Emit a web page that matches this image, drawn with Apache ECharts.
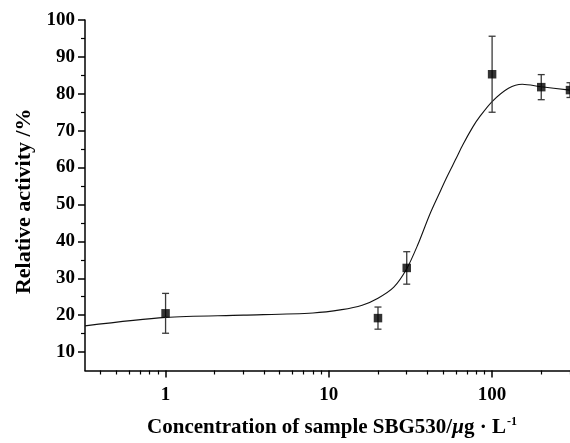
<!DOCTYPE html>
<html>
<head>
<meta charset="utf-8">
<script src="https://cdn.jsdelivr.net/npm/echarts@6/dist/echarts.min.js"></script>
<style>
  html, body { margin: 0; padding: 0; background: #fff; }
  #chart { width: 570px; height: 443px; }
</style>
</head>
<body>
<div id="chart"></div>
<script>
// Measured activity (mean ± error) at each sample concentration (µg/L)
const concentrations = [1, 20, 30, 100, 200, 300];
const activityMean   = [20.5, 19.2, 32.8, 85.3, 81.8, 81.0];
const activityError  = [5.4, 3.0, 4.4, 10.3, 3.4, 2.0];

// Fitted dose-response curve
const fitConc     = [0.321, 1, 3, 8, 12, 16, 20, 25, 30, 35, 41.5, 47.7, 52.5, 60.4, 66.2, 76.4, 84, 100, 126, 153, 200, 300];
const fitActivity = [17.1, 19.4, 20.0, 20.6, 21.5, 22.7, 24.6, 27.6, 32.6, 39.0, 47.3, 53.2, 57.2, 62.6, 66.2, 71.1, 73.8, 77.9, 81.5, 82.6, 81.9, 81.0];

// Axis ticks
const xMajorTicks = [1, 10, 100];
const xMinorTicks = [0.4, 0.5, 0.6, 0.7, 0.8, 0.9, 2, 3, 4, 5, 6, 7, 8, 9, 20, 30, 40, 50, 60, 70, 80, 90, 200, 300];
const yMajorTicks = [10, 20, 30, 40, 50, 60, 70, 80, 90, 100];
const yMinorTicks = [15, 25, 35, 45, 55, 65, 75, 85, 95];

const FONT = "'Liberation Serif', 'Times New Roman', serif";
const INK = '#000';

const meanPoints = concentrations.map((c, i) => [c, activityMean[i]]);
const errorPoints = concentrations.map((c, i) => [c, activityMean[i] - activityError[i], activityMean[i] + activityError[i]]);
const fitPoints = fitConc.map((c, i) => [c, fitActivity[i]]);

const chart = echarts.init(document.getElementById('chart'), null, { renderer: 'canvas' });

const xBase = {
  type: 'log',
  logBase: 10,
  min: 0.321,
  max: 300,
  position: 'bottom',
  splitLine: { show: false },
  minorTick: { show: false }
};
const yBase = {
  type: 'value',
  min: 5,
  max: 100,
  position: 'left',
  splitLine: { show: false }
};

chart.setOption({
  animation: false,
  backgroundColor: '#fff',
  grid: { left: 85, top: 20, width: 486, bottom: 67 },
  xAxis: [
    Object.assign({}, xBase, {
      name: '{a|Concentration of sample SBG530/}{i|\u03bc}{a|g \u00b7 L}{s|-1}',
      nameLocation: 'middle',
      nameGap: 45,
      nameTextStyle: {
        padding: [0, 0, 0, 9],
        rich: {
          a: { fontFamily: FONT, fontWeight: 'bold', fontSize: 21, color: INK, lineHeight: 24 },
          i: { fontFamily: FONT, fontWeight: 'bold', fontStyle: 'italic', fontSize: 21, color: INK, lineHeight: 24 },
          s: { fontFamily: FONT, fontWeight: 'bold', fontSize: 12, color: INK, verticalAlign: 'top', lineHeight: 24, padding: [0, 0, 10, 1] }
        }
      },
      axisLine: { show: true, lineStyle: { color: INK, width: 1.5 } },
      axisTick: { show: true, inside: false, length: 7, customValues: xMajorTicks, lineStyle: { color: INK, width: 1.5 } },
      axisLabel: {
        customValues: xMajorTicks,
        margin: 15,
        fontFamily: FONT, fontWeight: 'bold', fontSize: 19, color: INK,
        formatter: v => String(v)
      }
    }),
    Object.assign({}, xBase, {
      axisLine: { show: false },
      axisTick: { show: true, inside: false, length: 4, customValues: xMinorTicks, lineStyle: { color: INK, width: 1.2 } },
      axisLabel: { show: false }
    })
  ],
  yAxis: [
    Object.assign({}, yBase, {
      name: 'Relative activity /%',
      nameLocation: 'middle',
      nameGap: 50,
      nameTextStyle: { fontFamily: FONT, fontWeight: 'bold', fontSize: 22, color: INK, padding: [0, 12, 0, 0] },
      axisLine: { show: true, lineStyle: { color: INK, width: 1.5 } },
      axisTick: { show: true, inside: false, length: 7, customValues: yMajorTicks, lineStyle: { color: INK, width: 1.5 } },
      axisLabel: {
        customValues: yMajorTicks,
        margin: 10,
        fontFamily: FONT, fontWeight: 'bold', fontSize: 19, color: INK
      }
    }),
    Object.assign({}, yBase, {
      axisLine: { show: false },
      axisTick: { show: true, inside: false, length: 4, customValues: yMinorTicks, lineStyle: { color: INK, width: 1.2 } },
      axisLabel: { show: false }
    })
  ],
  series: [
    {
      name: 'fit',
      type: 'line',
      data: fitPoints,
      smooth: 0.3,
      symbol: 'none',
      clip: true,
      lineStyle: { color: '#111', width: 1.1 },
      z: 2
    },
    {
      name: 'error',
      type: 'custom',
      data: errorPoints,
      clip: false,
      z: 3,
      renderItem: function (params, api) {
        const x = api.value(0);
        const lo = api.coord([x, api.value(1)]);
        const hi = api.coord([x, api.value(2)]);
        const cap = 3.5;
        const style = { stroke: '#3a3a3a', lineWidth: 1.3, fill: null };
        return {
          type: 'group',
          children: [
            { type: 'line', shape: { x1: lo[0], y1: lo[1], x2: hi[0], y2: hi[1] }, style: style },
            { type: 'line', shape: { x1: lo[0] - cap, y1: lo[1], x2: lo[0] + cap, y2: lo[1] }, style: style },
            { type: 'line', shape: { x1: hi[0] - cap, y1: hi[1], x2: hi[0] + cap, y2: hi[1] }, style: style }
          ]
        };
      }
    },
    {
      name: 'mean',
      type: 'scatter',
      data: meanPoints,
      symbol: 'rect',
      symbolSize: 8.5,
      clip: false,
      itemStyle: { color: INK },
      z: 4
    }
  ]
});
</script>
</body>
</html>
